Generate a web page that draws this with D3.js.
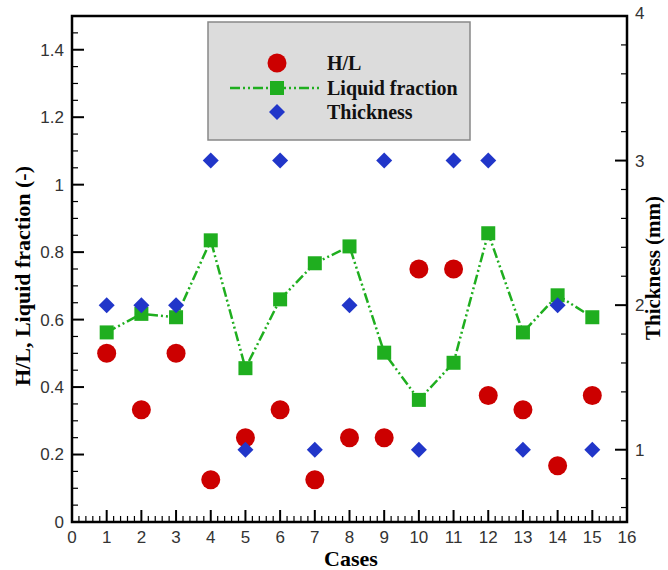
<!DOCTYPE html>
<html>
<head>
<meta charset="utf-8">
<script src="https://cdn.jsdelivr.net/npm/d3@7"></script>
<style>
  body { margin: 0; background: #fff; }
  svg { display: block; }
</style>
</head>
<body>
<div class="chart"></div>
<script>
// data
const cases = [1, 2, 3, 4, 5, 6, 7, 8, 9, 10, 11, 12, 13, 14, 15];
const hl = [0.5, 0.333, 0.5, 0.125, 0.25, 0.333, 0.125, 0.25, 0.25, 0.75, 0.75, 0.375, 0.333, 0.167, 0.375];
const liquidFraction = [0.562, 0.617, 0.607, 0.835, 0.456, 0.66, 0.767, 0.817, 0.502, 0.362, 0.472, 0.856, 0.562, 0.672, 0.607];
const thickness = [2, 2, 2, 3, 1, 3, 1, 2, 3, 1, 3, 3, 1, 2, 1];
const xTicks = d3.range(0, 17);
const leftTicks = [0, 0.2, 0.4, 0.6, 0.8, 1, 1.2, 1.4];
const rightTicks = [1, 2, 3, 4];

const red = "#cc0000";
const green = "#1fae1f";
const blue = "#2136c9";

const width = 668, height = 570;
const margin = {top: 16, right: 41, bottom: 48, left: 72};
const svg = d3.select('.chart').append('svg')
    .attr('width', width)
    .attr('height', height);

const x = d3.scaleLinear().domain([0, 16]).range([margin.left, width - margin.right]);
const yL = d3.scaleLinear().domain([0, 1.5]).range([height - margin.bottom, margin.top]);
const yR = d3.scaleLinear().domain([0.5, 4]).range([height - margin.bottom, margin.top]);

const x0 = margin.left, x1 = width - margin.right;
const y0 = height - margin.bottom, y1 = margin.top;

// axes, ticks drawn inward
const tickFont = "'Liberation Sans', Arial, sans-serif";
const axisG = svg.append('g').attr('stroke', '#000');

// minor + major ticks
d3.range(0, 16.001, 0.2).forEach(v => {
  const major = Math.abs(v - Math.round(v)) < 1e-6;
  axisG.append('line').attr('x1', x(v)).attr('x2', x(v))
    .attr('y1', y0).attr('y2', y0 - (major ? 12 : 6))
    .attr('stroke-width', major ? 2 : 1.2);
});
d3.range(0, 1.5001, 0.05).forEach(v => {
  const major = Math.abs(v * 5 - Math.round(v * 5)) < 1e-6;
  axisG.append('line').attr('x1', x0).attr('x2', x0 + (major ? 12 : 6))
    .attr('y1', yL(v)).attr('y2', yL(v))
    .attr('stroke-width', major ? 2 : 1.2);
});
d3.range(0.6, 4.001, 0.2).forEach(v => {
  const major = Math.abs(v - Math.round(v)) < 1e-6;
  axisG.append('line').attr('x1', x1).attr('x2', x1 - (major ? 12 : 6))
    .attr('y1', yR(v)).attr('y2', yR(v))
    .attr('stroke-width', major ? 2 : 1.2);
});

// frame
svg.append('rect')
    .attr('x', x0).attr('y', y1)
    .attr('width', x1 - x0).attr('height', y0 - y1)
    .attr('fill', 'none').attr('stroke', '#000').attr('stroke-width', 2.5);

// tick labels
svg.append('g').selectAll('text').data(xTicks).enter().append('text')
    .attr('x', d => x(d)).attr('y', y0 + 21)
    .attr('text-anchor', 'middle')
    .attr('font-family', tickFont).attr('font-size', '17px').attr('fill', '#333')
    .text(d => d);
svg.append('g').selectAll('text').data(leftTicks).enter().append('text')
    .attr('x', x0 - 8).attr('y', d => yL(d)).attr('dy', '0.35em')
    .attr('text-anchor', 'end')
    .attr('font-family', tickFont).attr('font-size', '17px').attr('fill', '#333')
    .text(d => d);
svg.append('g').selectAll('text').data(rightTicks).enter().append('text')
    .attr('x', x1 + 8).attr('y', d => yR(d)).attr('dy', d => d === 4 ? '0.2em' : '0.35em')
    .attr('text-anchor', 'start')
    .attr('font-family', tickFont).attr('font-size', '17px').attr('fill', '#333')
    .text(d => d);

// axis titles
const titleFont = "'Liberation Serif', 'Times New Roman', serif";
svg.append('text')
    .attr('x', 351).attr('y', 566)
    .attr('text-anchor', 'middle')
    .attr('font-family', titleFont).attr('font-weight', 'bold').attr('font-size', '22px')
    .text('Cases');
svg.append('text')
    .attr('transform', 'translate(30,276) rotate(-90)')
    .attr('text-anchor', 'middle')
    .attr('font-family', titleFont).attr('font-weight', 'bold').attr('font-size', '22px')
    .text('H/L, Liquid fraction (-)');
svg.append('text')
    .attr('transform', 'translate(660,268) rotate(-90)')
    .attr('text-anchor', 'middle')
    .attr('font-family', titleFont).attr('font-weight', 'bold').attr('font-size', '21px')
    .text('Thickness (mm)');

// liquid fraction line
const dash = '10,3,2,3,2,3';
const line = d3.line().x((d, i) => x(cases[i])).y(d => yL(d));
svg.append('path')
    .attr('d', line(liquidFraction))
    .attr('fill', 'none').attr('stroke', green)
    .attr('stroke-width', 2.5).attr('stroke-dasharray', dash);

const sq = 14;
svg.append('g').selectAll('rect').data(liquidFraction).enter().append('rect')
    .attr('x', (d, i) => x(cases[i]) - sq / 2).attr('y', d => yL(d) - sq / 2)
    .attr('width', sq).attr('height', sq).attr('fill', green);

svg.append('g').selectAll('circle').data(hl).enter().append('circle')
    .attr('cx', (d, i) => x(cases[i])).attr('cy', d => yL(d))
    .attr('r', 9.5).attr('fill', red);

const dia = 8;
const diamond = (cx, cy) => `M${cx},${cy - dia} L${cx + dia},${cy} L${cx},${cy + dia} L${cx - dia},${cy} Z`;
svg.append('g').selectAll('path').data(thickness).enter().append('path')
    .attr('d', (d, i) => diamond(x(cases[i]), yR(d)))
    .attr('fill', blue);

// legend
const lg = svg.append('g');
lg.append('rect')
    .attr('x', 208).attr('y', 22).attr('width', 262).attr('height', 118)
    .attr('fill', '#dcdcdc').attr('stroke', '#888').attr('stroke-width', 1.5);
const items = ['H/L', 'Liquid fraction', 'Thickness'];
const ly = [63, 88, 112];
lg.append('circle').attr('cx', 277).attr('cy', ly[0]).attr('r', 9.5).attr('fill', red);
lg.append('line').attr('x1', 230).attr('x2', 322).attr('y1', ly[1]).attr('y2', ly[1])
    .attr('stroke', green).attr('stroke-width', 2.5).attr('stroke-dasharray', dash);
lg.append('rect').attr('x', 277 - sq / 2).attr('y', ly[1] - sq / 2)
    .attr('width', sq).attr('height', sq).attr('fill', green);
lg.append('path').attr('d', diamond(277, ly[2])).attr('fill', blue);
lg.selectAll('text.item').data(items).enter().append('text')
    .attr('class', 'item')
    .attr('x', 327).attr('y', (d, i) => ly[i]).attr('dy', '0.35em')
    .attr('font-family', titleFont).attr('font-weight', 'bold')
    .attr('font-size', '20px').attr('fill', '#111')
    .text(d => d);
</script>
</body>
</html>
